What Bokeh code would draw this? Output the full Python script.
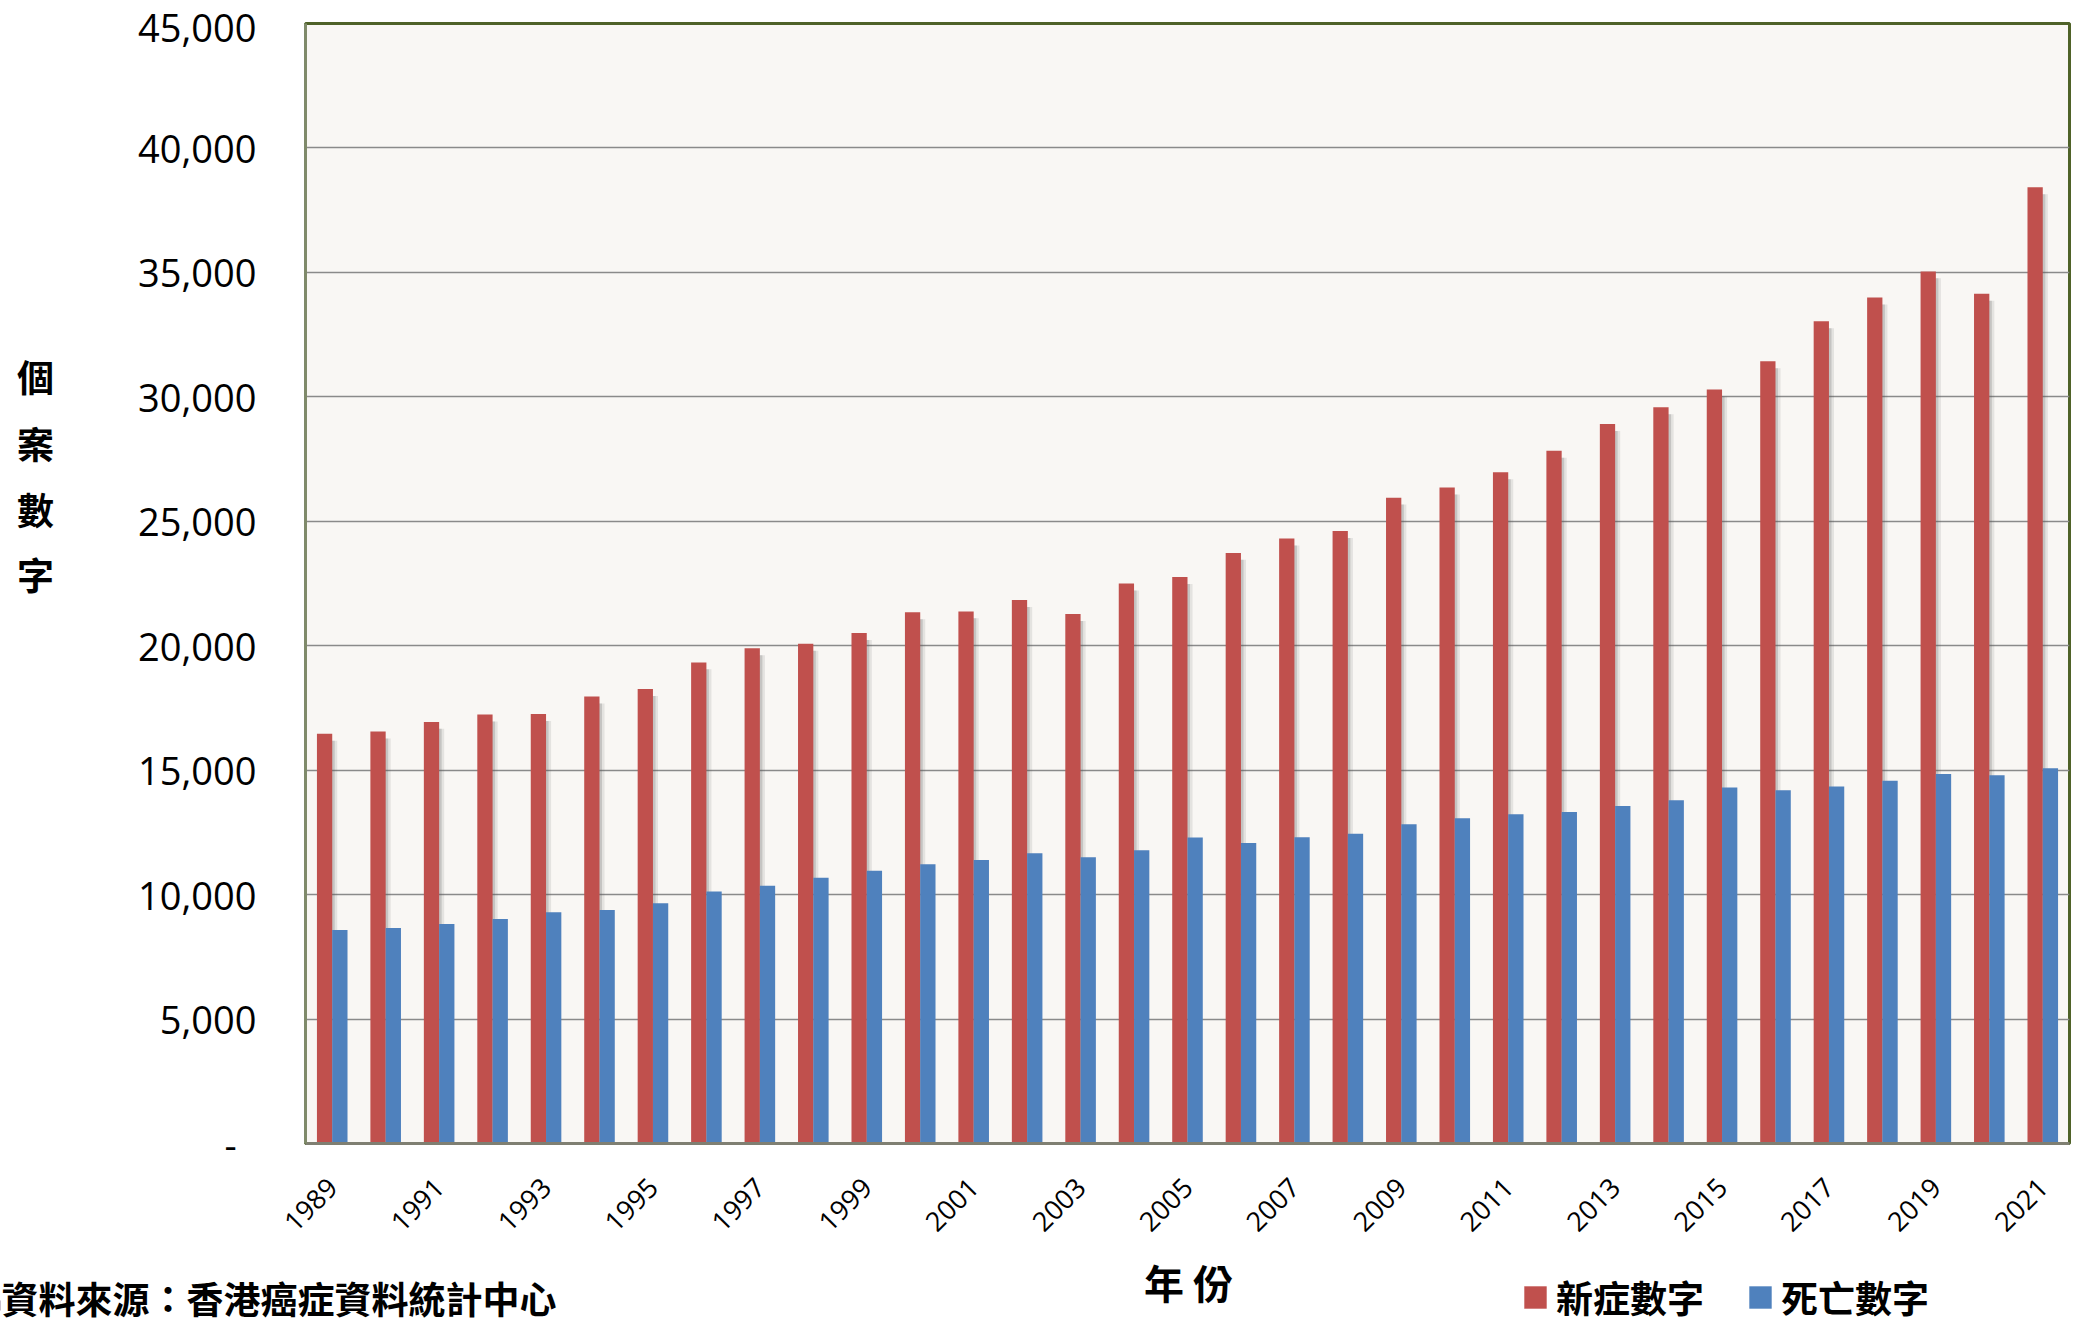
import math
from bokeh.plotting import figure
from bokeh.layouts import column, row
from bokeh.models import (ColumnDataSource, FixedTicker, NumeralTickFormatter,
                          Legend, LegendItem, Range1d)
from bokeh.core.properties import value
from bokeh.transform import dodge
from bokeh.embed import file_html
from bokeh.resources import INLINE

years = [1989, 1990, 1991, 1992, 1993, 1994, 1995, 1996, 1997, 1998,
         1999, 2000, 2001, 2002, 2003, 2004, 2005, 2006, 2007, 2008,
         2009, 2010, 2011, 2012, 2013, 2014, 2015, 2016, 2017, 2018,
         2019, 2020, 2021]
new_cases = [16460, 16550, 16940, 17240, 17260, 17960, 18260, 19330, 19900, 20080,
             20510, 21340, 21380, 21840, 21270, 22500, 22760, 23730, 24310, 24610,
             25950, 26360, 26970, 27830, 28910, 29580, 30290, 31430, 33040, 33990,
             35040, 34140, 38420]
deaths = [8580, 8660, 8820, 9020, 9290, 9380, 9650, 10120, 10360, 10680,
          10960, 11220, 11390, 11660, 11500, 11780, 12290, 12070, 12300, 12450,
          12830, 13070, 13230, 13320, 13560, 13790, 14300, 14190, 14340, 14570,
          14850, 14800, 15080]
x_tick_years = [1989, 1991, 1993, 1995, 1997, 1999, 2001, 2003, 2005,
                2007, 2009, 2011, 2013, 2015, 2017, 2019, 2021]
x_tick_labels = ["1989", "1991", "1993", "1995", "1997", "1999", "2001", "2003", "2005",
                 "2007", "2009", "2011", "2013", "2015", "2017", "2019", "2021"]
y_ticks = [0, 5000, 10000, 15000, 20000, 25000, 30000, 35000, 40000, 45000]
series_names = ["新症數字", "死亡數字"]
y_title_chars = ["個", "案", "數", "字"]
x_title = "年 份"
source_note = "資料來源：香港癌症資料統計中心"

RED = "#C0504D"
BLUE = "#4F81BD"
CJK = "Noto Sans CJK TC"
NUM = "Open Sans"

TOTAL_W, TOTAL_H = 2072, 1326
LEFT_W = 100
MAIN_H = 1248
FRAME_TOP, FRAME_BOTTOM = 23, 1143

# ---------------- main chart ----------------
shadow_top = [v - 280 for v in new_cases]
src = ColumnDataSource(dict(year=years, new=new_cases, dead=deaths, shadow=shadow_top))

p = figure(width=TOTAL_W - LEFT_W, height=MAIN_H,
           x_range=Range1d(years[0] - 0.5, years[-1] + 0.5),
           y_range=Range1d(0, 45000), output_backend="svg", toolbar_location=None,
           min_border_left=305 - LEFT_W, min_border_right=3, min_border_top=FRAME_TOP,
           min_border_bottom=MAIN_H - FRAME_BOTTOM)

p.background_fill_color = "#F9F7F4"
p.border_fill_color = "white"
p.outline_line_color = "#4F6228"
p.outline_line_width = 3

bw = 0.286
off = 0.143
p.vbar(x=dodge("year", -off + 0.094), top="shadow", width=bw, source=src,
       fill_color="#555555", fill_alpha=0.12, line_color=None)
p.vbar(x=dodge("year", -off + 0.047), top="shadow", width=bw, source=src,
       fill_color="#555555", fill_alpha=0.22, line_color=None)
p.vbar(x=dodge("year", -off), top="new", width=bw, source=src,
       fill_color=RED, line_color=None)
p.vbar(x=dodge("year", off), top="dead", width=bw, source=src,
       fill_color=BLUE, line_color=None)

p.xgrid.grid_line_color = None
p.ygrid.grid_line_color = "#8A8A8A"
p.ygrid.grid_line_width = 1.6
p.ygrid.ticker = FixedTicker(ticks=y_ticks)

ya = p.yaxis[0]
ya.ticker = FixedTicker(ticks=y_ticks)
ya.formatter = NumeralTickFormatter(format="0,0")
ya.major_label_overrides = {0: "-\u00a0\u00a0"}
ya.major_label_text_font = NUM
ya.major_label_text_font_size = "38px"
ya.major_label_text_color = "black"
ya.major_label_standoff = 43
ya.major_tick_line_color = None
ya.minor_tick_line_color = None
ya.axis_line_color = "#7F8A6A"
ya.axis_line_width = 3

xa = p.xaxis[0]
xa.ticker = FixedTicker(ticks=x_tick_years)
xa.major_label_overrides = dict(zip(x_tick_years, x_tick_labels))
xa.major_label_orientation = math.pi / 4
xa.major_label_text_font = NUM
xa.major_label_text_font_size = "27px"
xa.major_label_text_color = "black"
xa.major_label_standoff = 33
xa.major_tick_line_color = None
xa.minor_tick_line_color = None
xa.axis_line_color = "#7F7F72"
xa.axis_line_width = 3

# ---------------- left strip: stacked y title ----------------
# (its frame is aligned with the main frame, so map page pixels FRAME_TOP..FRAME_BOTTOM)
left = figure(width=LEFT_W, height=MAIN_H, x_range=Range1d(0, LEFT_W),
              y_range=Range1d(FRAME_BOTTOM, FRAME_TOP),
              output_backend="svg", toolbar_location=None, x_axis_location=None,
              y_axis_location=None, min_border=0)
left.outline_line_color = None
left.xgrid.visible = False
left.ygrid.visible = False
left.text(x=[35] * len(y_title_chars), y=[375, 442, 508, 573], text=y_title_chars,
          text_font=value(CJK), text_font_size="37px", text_font_style="bold",
          text_align="center", text_baseline="middle", text_color="black")

# ---------------- footer: x title, source, legend ----------------
foot = figure(width=TOTAL_W, height=TOTAL_H - MAIN_H, x_range=Range1d(0, TOTAL_W),
              y_range=Range1d(TOTAL_H, MAIN_H), output_backend="svg", toolbar_location=None,
              x_axis_location=None, y_axis_location=None, min_border=0)
foot.outline_line_color = None
foot.xgrid.visible = False
foot.ygrid.visible = False
foot.text(x=[1188], y=[1281], text=[x_title], text_font=value(CJK), text_font_size="40px",
          text_font_style="bold", text_align="center", text_baseline="middle", text_color="black")
foot.text(x=[1], y=[1297], text=[source_note], text_font=value(CJK), text_font_size="37px",
          text_font_style="bold", text_align="left", text_baseline="middle", text_color="black")

r1 = foot.vbar(x=[-1000], top=[1300], bottom=[1310], width=1, fill_color=RED, line_color=None)
r2 = foot.vbar(x=[-1000], top=[1300], bottom=[1310], width=1, fill_color=BLUE, line_color=None)
legend = Legend(items=[LegendItem(label=series_names[0], renderers=[r1]),
                       LegendItem(label=series_names[1], renderers=[r2])],
                location=(1521, 2), orientation="horizontal",
                glyph_width=28, glyph_height=28, label_standoff=7, spacing=42,
                padding=0, margin=0, border_line_color=None, background_fill_alpha=0,
                label_text_font=CJK, label_text_font_size="37px", label_text_font_style="bold",
                label_text_color="black", label_height=44)
foot.add_layout(legend, "center")

layout = column(row(left, p), foot)
open("out.html", "w").write(file_html(layout, INLINE))
